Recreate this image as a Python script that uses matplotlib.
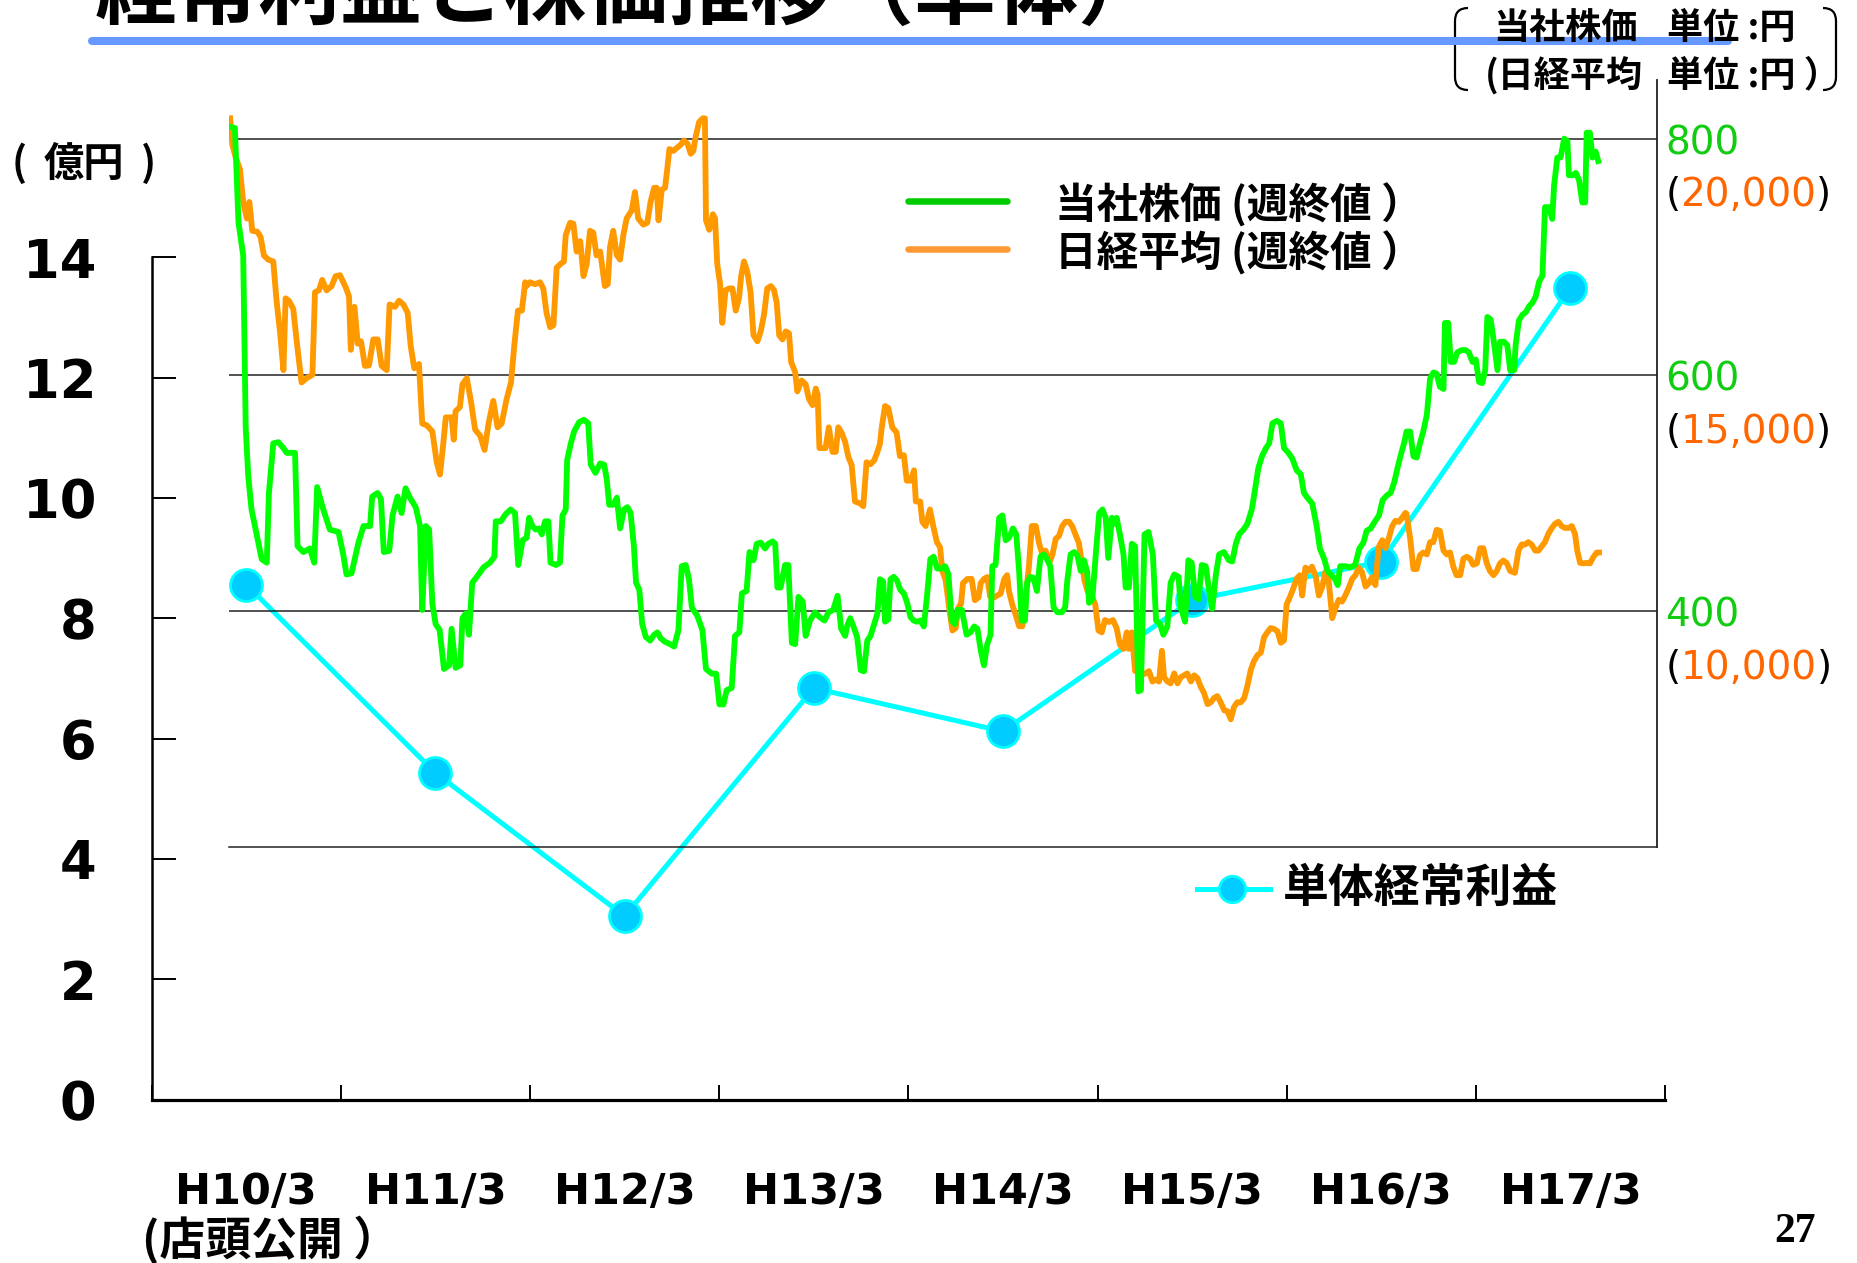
import matplotlib.pyplot as plt
from matplotlib.lines import Line2D
from matplotlib.path import Path
from matplotlib.patches import PathPatch

OUTPUT_IMAGE = 'out.png'
W, H = 1858, 1263  # tamaño final en px (dpi=100)

plt.rcParams['font.family'] = ['Noto Sans CJK JP', 'DejaVu Sans']

# --- datos ---
# 単体経常利益 (億円), fin de cada ejercicio
years = ['H10/3', 'H11/3', 'H12/3', 'H13/3', 'H14/3', 'H15/3', 'H16/3', 'H17/3']
profit = [8.56, 5.43, 3.05, 6.84, 6.12, 8.30, 8.94, 13.49]

# 当社株価 (週終値, 円): (semanas desde el 店頭公開, precio)
stock = [
    (0.4, 810), (1.7, 809), (2.7, 729), (4.0, 701), (4.7, 555), (5.4, 514), (6.3, 486), (7.7, 465),
    (9.1, 444), (10.5, 441), (11.1, 500), (12.3, 542), (13.7, 543), (15.1, 538), (16.0, 534), (18.3, 534),
    (19.0, 455), (20.6, 450), (22.4, 453), (23.6, 441), (24.4, 505), (26.1, 486), (27.9, 469), (30.3, 467),
    (31.6, 448), (32.5, 431), (33.9, 432), (35.8, 458), (37.2, 472), (39.0, 472), (39.6, 497), (41.1, 500),
    (42.0, 495), (42.8, 450), (44.3, 451), (45.2, 481), (46.6, 497), (47.7, 483), (48.8, 504), (50.0, 496),
    (51.6, 488), (52.8, 472), (53.4, 401), (54.4, 472), (55.3, 469), (56.2, 406), (57.1, 389), (58.2, 384),
    (59.4, 351), (60.8, 354), (61.5, 385), (62.6, 352), (63.9, 354), (64.5, 394), (65.4, 398), (66.3, 380),
    (67.2, 424), (68.7, 430), (70.3, 437), (72.1, 441), (73.3, 446), (73.7, 476), (75.1, 476), (76.4, 482),
    (77.8, 486), (79.0, 483), (79.9, 439), (81.1, 460), (82.2, 462), (82.9, 479), (83.8, 472), (84.7, 469),
    (85.6, 470), (86.4, 465), (87.3, 476), (88.2, 476), (88.8, 441), (90.3, 439), (91.4, 441), (92.1, 481),
    (93.0, 486), (93.4, 528), (94.4, 542), (95.3, 552), (96.7, 560), (98.0, 562), (99.2, 559), (99.9, 524),
    (101.2, 517), (102.5, 525), (103.6, 524), (104.3, 512), (105.0, 490), (106.1, 490), (107.1, 496),
    (108.0, 470), (109.1, 486), (110.0, 488), (110.9, 483), (111.8, 455), (112.4, 424), (113.3, 418),
    (114.1, 389), (115.1, 378), (116.3, 375), (117.4, 380), (118.3, 382), (119.2, 377), (120.4, 374),
    (121.8, 372), (122.9, 370), (124.1, 384), (125.0, 438), (126.1, 439), (127.0, 427), (127.8, 403),
    (129.3, 396), (130.7, 384), (131.7, 351), (133.3, 347), (134.5, 347), (135.4, 321), (136.5, 321),
    (137.4, 333), (138.8, 335), (139.7, 379), (140.9, 382), (141.6, 415), (142.9, 417), (143.7, 450),
    (144.8, 443), (145.7, 457), (146.8, 458), (148.0, 453), (148.9, 457), (150.1, 459), (150.8, 457),
    (151.4, 420), (152.3, 420), (153.5, 439), (154.4, 439), (155.4, 373), (156.3, 372), (157.2, 412),
    (158.4, 408), (159.2, 379), (160.4, 392), (161.8, 399), (163.0, 395), (164.4, 392), (165.5, 399),
    (166.8, 401), (168.0, 413), (169.0, 385), (170.1, 379), (170.6, 387), (171.5, 394), (172.5, 386),
    (173.4, 378), (174.4, 350), (175.3, 349), (176.2, 375), (177.1, 379), (178.1, 389), (179.0, 398),
    (179.7, 427), (180.6, 425), (181.1, 391), (182.0, 393), (182.6, 427), (183.5, 429), (184.4, 426),
    (185.3, 418), (186.3, 415), (187.2, 407), (188.1, 395), (189.0, 392), (189.9, 391), (190.9, 392),
    (191.8, 387), (192.7, 413), (193.6, 444), (194.5, 446), (195.5, 436), (196.6, 436), (197.7, 438),
    (198.6, 431), (199.5, 392), (200.4, 389), (201.1, 401), (202.3, 401), (203.6, 380), (204.7, 382),
    (205.7, 387), (206.6, 385), (207.5, 367), (208.4, 354), (209.3, 372), (210.2, 380), (210.7, 438),
    (211.6, 439), (212.6, 479), (213.5, 481), (214.4, 460), (215.3, 462), (216.4, 470), (217.3, 465),
    (218.1, 434), (218.8, 392), (219.7, 392), (220.3, 424), (221.2, 429), (222.1, 428), (223.0, 417),
    (224.0, 446), (224.9, 448), (225.8, 444), (226.7, 438), (227.6, 403), (228.7, 399), (229.9, 399),
    (230.8, 403), (231.4, 426), (232.3, 448), (233.3, 450), (234.2, 447), (235.1, 434), (236.0, 443),
    (236.9, 433), (237.4, 407), (238.3, 410), (239.2, 446), (240.2, 483), (241.1, 486), (242.0, 479),
    (242.7, 445), (243.7, 479), (244.6, 474), (245.0, 479), (245.9, 465), (246.9, 448), (247.5, 420),
    (248.4, 420), (249.2, 457), (250.1, 455), (251.0, 332), (251.7, 333), (252.7, 465), (253.8, 467),
    (255.0, 448), (255.9, 392), (257.0, 389), (257.9, 380), (259.0, 387), (259.9, 424), (260.9, 431),
    (262.1, 429), (262.7, 403), (263.9, 391), (264.8, 443), (265.7, 441), (266.7, 412), (267.6, 410),
    (268.5, 439), (269.6, 438), (270.5, 418), (271.4, 402), (272.4, 431), (273.3, 448), (274.6, 450),
    (276.0, 443), (276.9, 442), (277.9, 457), (278.8, 465), (280.0, 469), (281.1, 474), (282.3, 486),
    (283.2, 503), (284.1, 521), (285.1, 531), (286.2, 538), (287.1, 542), (288.0, 559), (289.2, 561),
    (290.3, 559), (291.2, 538), (292.4, 534), (293.5, 529), (294.7, 519), (295.8, 516), (296.7, 500),
    (297.9, 495), (299.0, 491), (300.2, 472), (301.1, 453), (302.3, 444), (303.2, 434), (304.1, 431),
    (305.3, 427), (306.0, 422), (306.7, 438), (308.1, 438), (309.4, 437), (310.8, 439), (312.0, 453),
    (313.1, 458), (314.0, 468), (315.1, 470), (316.3, 476), (317.4, 481), (318.4, 494), (319.6, 498),
    (320.6, 500), (321.6, 509), (322.5, 521), (323.4, 532), (324.3, 542), (325.0, 552), (326.0, 552),
    (326.9, 531), (327.8, 530), (328.7, 542), (329.6, 552), (330.6, 566), (331.5, 597), (332.4, 602),
    (333.3, 601), (334.2, 590), (335.2, 588), (335.6, 644), (336.5, 644), (337.2, 611), (338.1, 611),
    (339.0, 619), (340.2, 621), (341.3, 621), (342.2, 619), (343.2, 611), (344.1, 613), (345.0, 594),
    (345.9, 593), (346.7, 604), (347.3, 649), (348.2, 647), (349.1, 628), (350.1, 604), (350.8, 628),
    (351.9, 628), (352.8, 625), (353.6, 604), (354.7, 604), (355.1, 625), (356.0, 646), (357.0, 651),
    (357.9, 653), (358.8, 658), (359.7, 661), (360.6, 666), (361.6, 679), (362.5, 684), (363.2, 742),
    (364.3, 742), (365.2, 732), (365.7, 760), (366.6, 784), (367.5, 784), (368.5, 800), (369.4, 798),
    (369.8, 769), (370.8, 769), (371.7, 771), (372.6, 765), (373.5, 746), (374.3, 746), (374.7, 805),
    (375.6, 805), (376.3, 784), (377.2, 789), (377.9, 781),
]

# 日経平均 (週終値, 円)
nikkei = [
    (0.4, 20430), (1.0, 19870), (1.9, 19610), (3.1, 19350), (4.0, 18660), (5.0, 18310), (5.7, 18660),
    (6.5, 18050), (7.9, 18030), (8.8, 17920), (9.7, 17530), (10.9, 17440), (12.3, 17400), (13.2, 16570),
    (14.2, 15880), (15.1, 15100), (15.7, 16620), (16.6, 16570), (17.8, 16400), (18.9, 15620), (20.1, 14840),
    (21.5, 14930), (23.1, 15000), (23.8, 16750), (24.9, 16790), (25.8, 17010), (27.0, 16790), (28.4, 16880),
    (29.5, 17090), (30.7, 17110), (32.3, 16850), (33.2, 16660), (33.7, 15530), (34.7, 16440), (35.6, 15660),
    (36.5, 15710), (37.6, 15190), (38.7, 15200), (39.9, 15750), (41.1, 15750), (42.2, 15190), (43.6, 15100),
    (44.4, 16490), (45.9, 16440), (47.0, 16570), (48.2, 16490), (49.4, 16310), (50.2, 15620), (51.2, 15140),
    (52.5, 15230), (53.4, 13970), (54.7, 13930), (56.2, 13800), (57.4, 13150), (58.3, 12890), (59.2, 13540),
    (59.9, 14100), (61.5, 14100), (62.1, 13630), (62.6, 14230), (63.8, 14320), (64.5, 14800), (65.7, 14930),
    (66.9, 14410), (68.0, 13840), (69.4, 13710), (70.6, 13410), (71.7, 13970), (73.0, 14450), (74.2, 13890),
    (75.3, 13970), (76.7, 14490), (77.9, 14840), (78.8, 15620), (79.8, 16360), (80.9, 16360), (81.8, 16960),
    (82.2, 16880), (83.1, 16960), (84.5, 16920), (85.9, 16960), (86.8, 16830), (87.7, 16310), (88.7, 16010),
    (89.6, 16050), (90.5, 17270), (91.6, 17350), (92.5, 17400), (93.0, 17960), (94.2, 18220), (95.1, 18200),
    (96.0, 17610), (97.0, 17830), (97.9, 17090), (98.8, 17350), (99.7, 18050), (100.6, 18010),
    (101.5, 17530), (102.5, 17610), (103.8, 16880), (104.6, 16920), (105.2, 17700), (106.1, 18050),
    (107.1, 17530), (108.0, 17440), (108.9, 17960), (109.8, 18310), (111.2, 18480), (112.1, 18870),
    (113.0, 18310), (114.4, 18180), (115.5, 18220), (116.4, 18660), (117.4, 18960), (118.1, 18960),
    (118.6, 18270), (119.5, 18920), (120.4, 18960), (121.0, 19350), (121.6, 19780), (122.7, 19740),
    (123.6, 19800), (124.7, 19870), (125.6, 19960), (126.6, 19890), (127.5, 19680), (128.2, 19740),
    (128.9, 20060), (129.8, 20350), (130.8, 20430), (131.4, 20430), (131.7, 18270), (132.6, 18070),
    (133.6, 18400), (134.2, 18310), (134.8, 17350), (135.6, 16920), (136.2, 16100), (137.1, 16790),
    (138.1, 16830), (139.0, 16830), (139.9, 16360), (140.8, 16620), (141.4, 17090), (142.2, 17400),
    (143.1, 17180), (144.0, 16750), (144.8, 15840), (145.9, 15710), (146.8, 15920), (147.7, 16270),
    (148.6, 16830), (149.6, 16880), (150.5, 16790), (151.2, 16530), (151.9, 15840), (152.8, 15750),
    (153.7, 15920), (154.6, 15880), (155.2, 15270), (156.3, 15060), (156.9, 14650), (158.1, 14880),
    (159.2, 14800), (160.1, 14490), (161.1, 14360), (162.0, 14710), (162.5, 14580), (163.0, 13450),
    (164.7, 13450), (165.6, 13890), (166.6, 13370), (167.5, 13370), (168.2, 13890), (169.1, 13780),
    (170.1, 13580), (171.0, 13260), (171.9, 13090), (172.8, 12320), (174.2, 12280), (175.1, 12220),
    (176.0, 13150), (177.1, 13110), (178.1, 13190), (179.0, 13370), (179.7, 13540), (180.2, 13890),
    (181.1, 14340), (182.0, 14300), (183.1, 13890), (184.3, 13780), (185.2, 13280), (186.3, 13300),
    (187.1, 12760), (188.2, 12760), (189.1, 12980), (189.6, 12320), (190.8, 12320), (191.4, 11890),
    (192.3, 11800), (193.5, 12150), (194.4, 11800), (195.4, 11460), (196.3, 11350), (196.9, 10850),
    (197.8, 10660), (198.8, 10070), (199.7, 9590), (200.6, 9640), (201.3, 10070), (202.1, 10160),
    (202.6, 10590), (203.8, 10680), (205.0, 10680), (205.9, 10230), (206.9, 10290), (207.5, 10590),
    (208.4, 10680), (209.3, 10720), (210.1, 10310), (211.2, 10290), (212.1, 10330), (213.0, 10370),
    (214.0, 10680), (214.8, 10760), (215.3, 10420), (216.2, 10140), (217.2, 9910), (218.1, 9680),
    (219.0, 9680), (219.9, 10310), (220.8, 10940), (221.6, 11800), (222.7, 11800), (223.6, 11440),
    (224.5, 11200), (225.4, 11280), (226.4, 11010), (227.3, 11200), (228.2, 11530), (229.1, 11590),
    (230.0, 11800), (230.9, 11890), (231.9, 11890), (232.8, 11790), (233.7, 11610), (234.6, 11440),
    (235.4, 11020), (236.1, 10660), (237.0, 10420), (238.1, 10330), (239.1, 10140), (240.0, 9590),
    (240.9, 9550), (241.8, 9810), (242.9, 9770), (244.0, 9810), (245.0, 9640), (245.9, 9290),
    (246.9, 9200), (247.8, 9550), (248.3, 9200), (249.2, 9550), (250.1, 8730), (251.0, 8770),
    (252.1, 8660), (253.0, 8680), (253.9, 8730), (254.9, 8510), (255.8, 8550), (256.7, 8510),
    (257.5, 9160), (258.1, 8600), (259.0, 8510), (259.9, 8470), (260.9, 8680), (261.8, 8470),
    (262.7, 8600), (263.6, 8640), (264.5, 8680), (265.5, 8510), (266.4, 8640), (267.3, 8580),
    (268.2, 8400), (269.1, 8270), (270.1, 8030), (271.0, 8070), (271.9, 8160), (272.8, 8200),
    (273.7, 8070), (274.7, 7900), (275.6, 7880), (276.5, 7710), (277.4, 7970), (278.3, 8070),
    (279.3, 8070), (280.2, 8160), (281.1, 8420), (282.0, 8750), (282.9, 8940), (283.9, 9070),
    (284.8, 9120), (285.7, 9450), (286.6, 9550), (287.5, 9640), (288.5, 9620), (289.4, 9570),
    (290.3, 9330), (291.2, 9380), (291.9, 10140), (292.9, 10310), (293.8, 10490), (294.7, 10690),
    (295.6, 10760), (296.2, 10330), (297.1, 10920), (298.0, 10850), (298.9, 10940), (299.9, 10750),
    (300.8, 10330), (301.7, 10500), (302.6, 10830), (303.5, 10660), (304.5, 9850), (305.4, 10070),
    (306.3, 10240), (307.2, 10200), (308.1, 10330), (309.1, 10500), (310.0, 10680), (310.9, 10760),
    (311.8, 10920), (312.7, 10830), (313.7, 10520), (314.6, 10590), (315.5, 10720), (316.4, 10550),
    (317.3, 11350), (318.3, 11500), (319.2, 11330), (320.1, 11540), (321.0, 11790), (321.9, 11910),
    (322.9, 11890), (323.8, 11980), (324.7, 12080), (325.0, 12060), (326.0, 11540), (326.9, 10890),
    (327.8, 10890), (328.7, 11180), (329.6, 11240), (330.6, 11200), (331.5, 11460), (332.4, 11460),
    (333.3, 11720), (334.2, 11700), (335.2, 11280), (336.1, 11200), (337.0, 11240), (337.9, 10940),
    (338.8, 10760), (339.8, 10760), (340.7, 11110), (341.6, 11150), (342.5, 11110), (343.4, 10980),
    (344.4, 11010), (345.3, 11330), (346.2, 11330), (347.1, 11020), (348.0, 10850), (349.0, 10760),
    (349.9, 10850), (350.8, 11010), (351.7, 11070), (352.6, 11020), (353.6, 10850), (354.9, 10810),
    (355.9, 11280), (356.8, 11410), (357.7, 11410), (358.6, 11460), (359.5, 11410), (360.5, 11280),
    (361.4, 11280), (362.3, 11370), (363.2, 11460), (364.1, 11630), (365.1, 11760), (366.0, 11850),
    (366.9, 11890), (367.8, 11800), (368.7, 11760), (369.7, 11760), (370.6, 11800), (371.5, 11630),
    (372.1, 11280), (372.9, 11020), (373.8, 11010), (374.7, 11020), (375.6, 11010), (376.6, 11150),
    (377.5, 11240), (378.1, 11240),
]

profit_ticks = [0, 2, 4, 6, 8, 10, 12, 14]
price_ticks = [400, 600, 800]
nikkei_labels = ['10,000', '15,000', '20,000']
NIKKEI_PER_YEN = 25  # 800円 <-> 20,000円 en el eje derecho

GREEN = '#00ff00'
ORANGE = '#ff9900'
CYAN = '#00ffff'


def fig_xy(x, y):
    # px de la imagen final -> fracción de figura
    return x / W, 1 - y / H


def fig_rect(x0, y0, x1, y1):
    return [x0 / W, 1 - y1 / H, (x1 - x0) / W, (y1 - y0) / H]


fig = plt.figure(figsize=(W / 100, H / 100), dpi=100)
fig.patch.set_facecolor('white')

# --- eje izquierdo: 経常利益 ---
ax = fig.add_axes(fig_rect(151.7, 257.2, 1665, 1099.7))
ax.patch.set_visible(False)
ax.set_zorder(1)
ax.set_xlim(-0.5, len(years) - 0.5)
ax.set_ylim(0, 14)
for s in ['top', 'right']:
    ax.spines[s].set_visible(False)
ax.spines['left'].set_linewidth(1.8)
ax.spines['bottom'].set_linewidth(2.3)
ax.set_yticks(profit_ticks)
ax.set_yticklabels([str(v) for v in profit_ticks], family='DejaVu Sans', fontweight='bold', fontsize=38)
ax.tick_params(axis='y', direction='in', length=17, width=1.4, pad=40)
ax.set_xticks([i - 0.5 for i in range(len(years) + 1)])
ax.set_xticklabels([])
ax.tick_params(axis='x', direction='in', length=11, width=1.4)
for i, lab in enumerate(years):
    ax.text(i, -0.110, lab, transform=ax.get_xaxis_transform(), ha='center', va='center',
            family='DejaVu Sans', fontweight='bold', fontsize=31)

ax.plot(range(len(years)), profit, color=CYAN, linewidth=3.6, marker='o', markersize=23,
        markerfacecolor='#00ccff', markeredgecolor=CYAN, markeredgewidth=2, zorder=3)

# --- eje del gráfico de precios (encima) ---
ax2 = fig.add_axes(fig_rect(228.7, 79.6, 1656.6, 847.3))
ax2.patch.set_visible(False)
ax2.set_zorder(2)
ax2.set_xlim(0, 394.0)
ax2.set_ylim(200, 850)
for s in ['top', 'left']:
    ax2.spines[s].set_visible(False)
ax2.spines['right'].set_linewidth(1.3)
ax2.spines['right'].set_color('#222222')
ax2.spines['bottom'].set_linewidth(1.1)
ax2.spines['bottom'].set_color('#222222')
ax2.set_xticks([])
ax2.set_yticks(price_ticks)
ax2.set_yticklabels([])
ax2.tick_params(axis='y', length=0)
ax2.grid(axis='y', color='#222222', linewidth=1.1)

nk_w, nk_v = zip(*nikkei)
ax2.plot(nk_w, [v / NIKKEI_PER_YEN for v in nk_v], color=ORANGE, linewidth=4.2, zorder=3)
st_w, st_v = zip(*stock)
ax2.plot(st_w, st_v, color=GREEN, linewidth=4.2, zorder=4)

# etiquetas del eje derecho (precio y, debajo, 日経平均 entre paréntesis)
ytr = ax2.get_yaxis_transform()
for v, nk in zip(price_ticks, nikkei_labels):
    ax2.text(1.006, v - 4, str(v), transform=ytr, ha='left', va='center', color='#11cc11',
             fontsize=28, family='DejaVu Sans')
    p1 = ax2.text(1.006, v - 48, '(', transform=ytr, ha='left', va='center', color='black',
                  fontsize=28, family='DejaVu Sans')
    p2 = ax2.annotate(nk, xy=(1, 0.5), xycoords=p1, ha='left', va='center', color='#ff6600',
                      fontsize=28, family='DejaVu Sans')
    ax2.annotate(')', xy=(1, 0.5), xycoords=p2, ha='left', va='center', color='black',
                 fontsize=28, family='DejaVu Sans')

# --- leyendas ---
fig.add_artist(Line2D(*zip(fig_xy(908, 201), fig_xy(1007, 201)), transform=fig.transFigure,
                      color='#00cc00', linewidth=4.7, solid_capstyle='round'))
fig.add_artist(Line2D(*zip(fig_xy(908, 249), fig_xy(1007, 249)), transform=fig.transFigure,
                      color='#ff9933', linewidth=4.7, solid_capstyle='round'))
fig.text(*fig_xy(1055, 205), '当社株価 (週終値 ）', ha='left', va='center', fontsize=30, fontweight='bold')
fig.text(*fig_xy(1055, 253), '日経平均 (週終値 ）', ha='left', va='center', fontsize=30, fontweight='bold')

fig.add_artist(Line2D(*zip(fig_xy(1197, 889), fig_xy(1270, 889)), transform=fig.transFigure,
                      color=CYAN, linewidth=3.6))
fig.add_artist(Line2D(*zip(fig_xy(1232, 889)), transform=fig.transFigure, marker='o', markersize=19,
                      markerfacecolor='#00ccff', markeredgecolor=CYAN, markeredgewidth=2))
fig.text(*fig_xy(1283, 889), '単体経常利益', ha='left', va='center', fontsize=33, fontweight='bold')

# --- títulos y textos ---
# el título queda cortado por arriba, como en la diapositiva original
fig.text(*fig_xy(95, 18), '経常利益と株価推移（単体）', ha='left', va='baseline', fontsize=59,
         fontweight='bold')
fig.add_artist(Line2D(*zip(fig_xy(92, 41), fig_xy(1728, 41)), transform=fig.transFigure,
                      color='#6699ff', linewidth=5.8, solid_capstyle='round'))

fig.text(*fig_xy(12, 164), '(', ha='left', va='center', fontsize=29, fontweight='bold')
fig.text(*fig_xy(84, 164), '億円', ha='center', va='center', fontsize=29, fontweight='bold')
fig.text(*fig_xy(156, 164), ')', ha='right', va='center', fontsize=29, fontweight='bold')

fig.text(*fig_xy(142, 1241), '(店頭公開 ）', ha='left', va='center', fontsize=33, fontweight='bold')
fig.text(*fig_xy(1795, 1232), '27', ha='center', va='center', fontsize=30, fontweight='bold',
         family='Liberation Serif')

# recuadro de unidades arriba a la derecha
fig.text(*fig_xy(1493, 29), '当社株価', ha='left', va='center', fontsize=26, fontweight='bold')
fig.text(*fig_xy(1667, 29), '単位 :円', ha='left', va='center', fontsize=26, fontweight='bold')
fig.text(*fig_xy(1485, 76), '(日経平均', ha='left', va='center', fontsize=26, fontweight='bold')
fig.text(*fig_xy(1667, 76), '単位 :円 ）', ha='left', va='center', fontsize=26, fontweight='bold')


def bracket(x_end, x_mid, y0, y1):
    pts = [(x_end, y0), (x_mid, y0), (x_mid, y0 + 13), (x_mid, y1 - 13), (x_mid, y1), (x_end, y1)]
    codes = [Path.MOVETO, Path.CURVE3, Path.CURVE3, Path.LINETO, Path.CURVE3, Path.CURVE3]
    path = Path([fig_xy(x, y) for x, y in pts], codes)
    fig.add_artist(PathPatch(path, transform=fig.transFigure, facecolor='none',
                             edgecolor='black', linewidth=1.6))


bracket(1468, 1455, 8, 90)
bracket(1823, 1836, 8, 90)

plt.savefig(OUTPUT_IMAGE, dpi=100)
